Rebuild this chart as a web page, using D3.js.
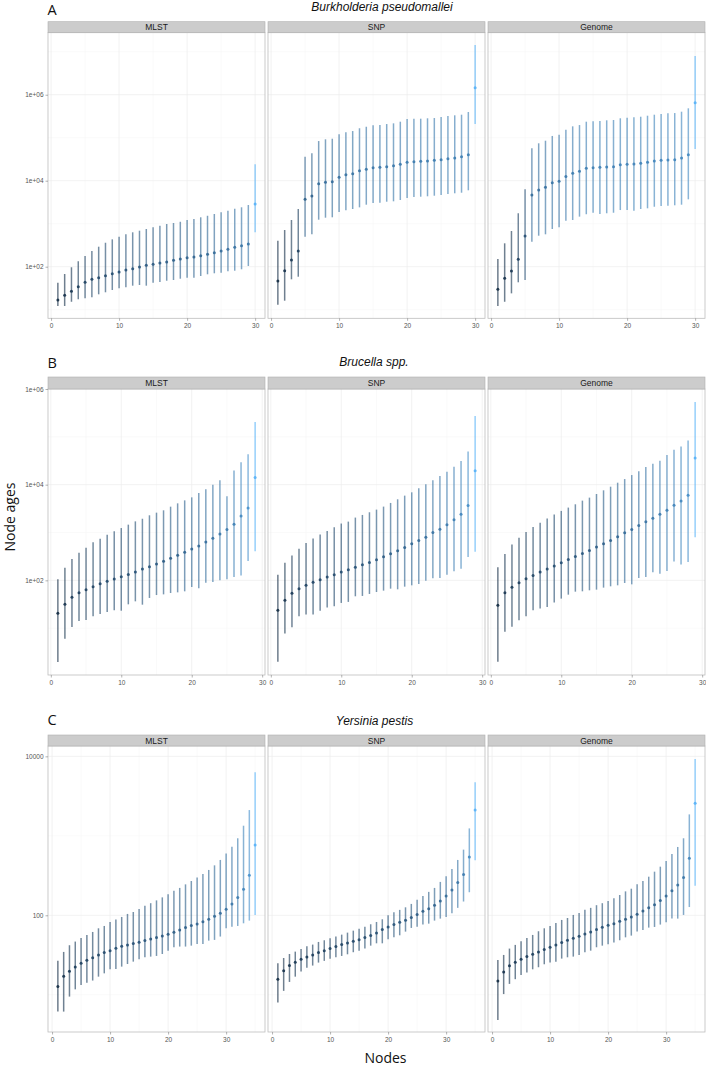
<!DOCTYPE html>
<html><head><meta charset="utf-8">
<script src="https://cdn.jsdelivr.net/npm/d3@7"></script>
<style>body{margin:0;background:#fff}svg{display:block}</style>
</head><body>
<svg id="chart" width="706" height="1067"></svg>
<script>
// ---------------- data ----------------
const methods = ["MLST", "SNP", "Genome"];
const panelLetters = ["A", "B", "C"];
const speciesNames = ["Burkholderia pseudomallei", "Brucella spp.", "Yersinia pestis"];
const yTicksAB = [1e2, 1e4, 1e6];
const yTickLabelsAB = ["1e+02", "1e+04", "1e+06"];
const yTicksC = [100, 10000];
const yTickLabelsC = ["100", "10000"];
const xTicks = [0, 10, 20, 30];
const xTickLabels = ["0", "10", "20", "30"];

// A: Burkholderia pseudomallei (30 nodes)
const A_MLST_med = [16.8,21.6,26.8,34.3,43.4,51,55.5,61.8,68.7,75.3,83.8,89.8,98.4,108,114,122,129,141,151,162,168,180,194,212,232,254,283,308,337,2870];
const A_MLST_lo  = [12.2,12.2,15.3,17.5,18.4,19.4,22.8,25.4,28.7,31.5,33.2,36.2,37.5,36.2,42.5,44,47.2,49,52.6,55.5,55.5,60.8,66.6,70.3,72.5,78.2,80.7,87.1,104,631];
const A_MLST_hi  = [42.5,67.6,97,134,177,232,292,361,433,499,567,631,688,753,824,898,984,1040,1110,1220,1290,1410,1530,1680,1840,2010,2230,2410,2720,24000];

const A_SNP_med = [46.5,80.7,143,232,3690,4400,8510,9180,9480,12000,13800,14500,17100,18400,20100,20500,21200,22300,24000,26800,27700,28200,28700,29800,30800,32500,33700,36100,40300,1456000];
const A_SNP_lo  = [13.1,16.2,50.9,58.5,499,567,1240,1380,1410,1870,2050,2200,2400,2770,3030,3080,3250,3320,3560,3960,4180,4250,4340,4480,4650,4910,5100,5260,5980,208000];
const A_SNP_hi  = [403,713,1220,2200,36100,43400,83700,91800,94800,120000,134000,143000,166000,180000,194000,197000,208000,216000,236000,272000,277000,277000,283000,287000,303000,320000,332000,343000,396000,14300000];

const A_Genome_med = [29.8,53.7,79.4,149,518,4650,6080,7030,8980,9680,12600,14900,16500,19400,20100,20500,20800,21200,23600,24000,24400,25400,26800,28700,29800,30300,30800,33700,40300,652000];
const A_Genome_lo  = [12.2,15.3,24,43.4,49.1,381,526,567,753,824,1170,1220,1460,1660,1800,1680,1750,1800,2080,2080,2010,2200,2280,2480,2580,2620,2680,2770,3690,54600];
const A_Genome_hi  = [151,350,676,1750,6310,56600,74100,85200,110000,117000,153000,184000,197000,236000,240000,244000,254000,258000,283000,292000,298000,308000,325000,343000,356000,369000,375000,403000,483000,7940000];

// B: Brucella spp. (29 nodes)
const B_MLST_med = [20.4,31.5,44.1,55.2,63.8,73.8,85.1,95.3,107,119,133,149,173,193,219,250,288,333,385,452,522,633,755,931,1150,1480,2210,3250,14200];
const B_MLST_lo  = [1.96,6.03,10.6,14.1,14.8,17.7,19.8,21.8,23.6,23.2,31.5,36.4,31,42.8,49.3,50.9,54.3,56.1,58.9,72.6,68.1,89.4,92.3,100,105,117,127,254,404];
const B_MLST_hi  = [105,184,279,379,482,622,743,902,1060,1240,1460,1710,1940,2290,2600,2910,3470,4070,4700,5430,6700,7980,10000,12300,5700,19900,29300,43000,204000];

const B_SNP_med = [23.7,38.3,53.6,67,78.7,90.9,103,117,131,149,167,187,212,237,270,311,359,415,487,581,681,800,1000,1170,1450,1840,2410,3650,19600];
const B_SNP_lo  = [1.99,7.74,10.5,17.8,19.3,19.3,23,27,28.7,33.7,35.4,46.4,47.2,51.9,57.1,60.9,67,64.9,73.8,78.7,83.9,98.4,110,112,131,154,175,306,395];
const B_SNP_hi  = [131,233,332,457,600,750,908,1080,1290,1540,1690,2050,2330,2650,3010,3480,4150,4950,5900,6920,8390,10200,12300,15200,18700,23700,31100,49400,274000];

const B_Genome_med = [30.1,55.3,71.4,89.4,108,127,149,172,199,233,274,316,365,422,495,581,681,813,984,1150,1400,1670,1990,2410,2920,3700,4570,5990,35900];
const B_Genome_lo  = [1.99,8.39,10.7,14.7,17.8,23.7,25.7,27.8,34.3,41.5,50.2,58,59,61.9,63.9,70.4,75,78.7,88,82.5,112,117,147,138,156,249,215,241,800];
const B_Genome_hi  = [187,354,562,774,1030,1310,1590,1960,2370,2830,3320,3890,4640,5360,6390,7620,9080,11000,13100,15900,19000,23300,27400,31600,41500,53600,63000,83900,536000];

// C: Yersinia pestis (35 nodes)
const C_MLST_med = [12.7,17.1,19.8,22.4,24.9,27.2,29.3,31.7,33.9,35.9,38.5,40.8,42.4,44,45.7,48,50.4,52.4,55,57.7,61.1,65.4,70,74.2,77.8,83.2,89.1,97.1,106,119,139,167,212,318,767];
const C_MLST_lo  = [6.14,6.14,9.48,11.7,13.3,14.2,15.1,16.9,18.6,20.9,21.1,22.6,24.4,26.1,28,29.6,30.2,30.8,32.6,35.9,39.6,40.4,40.4,41.5,43.6,43.6,48,49,54,68.6,71.9,73.4,79.3,85.7,101];
const C_MLST_hi  = [26.7,34.6,42,46.7,51.9,56.6,61.7,68.6,73.4,82.4,88.2,95.3,104,110,120,132,142,154,168,184,204,221,245,270,298,331,372,425,497,597,731,931,1340,2110,6300];

const C_SNP_med = [15.7,20.1,23.3,25.6,28,29.9,31.7,33.9,35.9,38.1,40.4,42.8,44.9,47.1,49.4,52.4,55.5,60,66.1,71.3,76.4,81.7,86.5,93.5,102,112,121,134,151,175,208,258,325,542,2110];
const C_SNP_lo  = [7.97,11.2,14.5,16.9,19.6,21.8,23.3,25.4,26.7,28.3,29.6,30.8,32.3,34.3,35.9,38.1,41.5,44.4,44.4,49.9,52.8,56,62.3,69.3,71.9,76.4,78.5,85.7,90.8,95.3,106,124,149,195,492];
const C_SNP_hi  = [24.9,29,32.6,34.9,37.7,40.8,42.8,46.2,48.5,51.4,54,57.1,60.5,64.1,67.9,71.9,77.1,82.4,89.1,100,109,117,126,139,157,175,197,221,263,310,383,497,670,1240,4710];

const C_Genome_med = [14.9,19.4,23.1,25.6,28,30.2,32.3,34.6,37,39.6,42.4,45.3,48.5,51.4,54.5,58.2,61.7,66.1,70.6,74.8,78.5,84.1,89.1,95.3,103,113,124,136,153,175,204,241,298,521,2560];
const C_Genome_lo  = [4.82,10.2,13.7,15.7,17.7,19,20.9,22.2,24.2,25.4,26.1,28.5,29.6,30.2,31.7,34.3,35.9,39.6,41.5,43.2,45.3,48.5,52.8,55.5,62.3,65.4,70,71.3,76.4,81.7,90.8,90.8,101,127,236];
const C_Genome_hi  = [27.4,31.7,38.1,42.4,47.1,51.9,56.6,63,68.6,73.4,80.1,87.4,92.5,101,107,117,124,134,142,151,164,180,200,216,245,270,306,354,409,482,590,724,931,1860,9250];

// ---------------- layout ----------------
const W = 706, H = 1067;
const svg = d3.select("#chart");
const sans = "'Liberation Sans', Arial, Helvetica, sans-serif";
const lblFont = "'Open Sans', 'Liberation Sans', sans-serif";
const facetX = [[48, 265], [268, 485], [488, 705]];

const rows = [
  { letter: panelLetters[0], species: speciesNames[0], titleX: 382, titleY: 10.5, letterY: 15,
    stripTop: 21.7, top: 32.7, bottom: 318.3, yDomain: [6.31, 2.77e7],
    yTicks: yTicksAB, yLabels: yTickLabelsAB, yMinor: [1e1, 1e3, 1e5, 1e7],
    facets: [[A_MLST_med, A_MLST_lo, A_MLST_hi], [A_SNP_med, A_SNP_lo, A_SNP_hi], [A_Genome_med, A_Genome_lo, A_Genome_hi]] },
  { letter: panelLetters[1], species: speciesNames[1], titleX: 374, titleY: 366, letterY: 368,
    stripTop: 377, top: 389, bottom: 675, yDomain: [1.05, 1e6],
    yTicks: yTicksAB, yLabels: yTickLabelsAB, yMinor: [1e1, 1e3, 1e5],
    facets: [[B_MLST_med, B_MLST_lo, B_MLST_hi], [B_SNP_med, B_SNP_lo, B_SNP_hi], [B_Genome_med, B_Genome_lo, B_Genome_hi]] },
  { letter: panelLetters[2], species: speciesNames[2], titleX: 374.5, titleY: 725, letterY: 725,
    stripTop: 735, top: 746, bottom: 1032, yDomain: [3.40, 13490],
    yTicks: yTicksC, yLabels: yTickLabelsC, yMinor: [10, 1000],
    facets: [[C_MLST_med, C_MLST_lo, C_MLST_hi], [C_SNP_med, C_SNP_lo, C_SNP_hi], [C_Genome_med, C_Genome_lo, C_Genome_hi]] }
];

svg.append("rect").attr("width", W).attr("height", H).attr("fill", "#fff");

rows.forEach(row => {
  svg.append("text").attr("x", 47.5).attr("y", row.letterY)
    .attr("font-family", lblFont).attr("font-size", 14.5).attr("fill", "#111")
    .text(row.letter);
  svg.append("text").attr("x", row.titleX).attr("y", row.titleY)
    .attr("text-anchor", "middle").attr("font-family", sans).attr("font-style", "italic")
    .attr("font-size", 12).attr("fill", "#111").text(row.species);

  const y = d3.scaleLog().domain(row.yDomain).range([row.bottom, row.top]);

  row.facets.forEach((f, fi) => {
    const [med, lo, hi] = f;
    const N = med.length;
    const nodes = d3.range(1, N + 1);
    const pad = 0.05 * (N - 1);
    const [x0, x1] = facetX[fi];
    const x = d3.scaleLinear().domain([1 - pad, N + pad]).range([x0, x1]);
    const color = d3.scaleLog().domain(d3.extent(med)).range(["#132B43", "#56B1F7"]).interpolate(d3.interpolateLab);
    const g = svg.append("g");

    const xMinor = [5, 15, 25, 35].filter(v => v < N + pad);
    g.selectAll(null).data(xMinor).join("line")
      .attr("x1", d => x(d)).attr("x2", d => x(d)).attr("y1", row.top).attr("y2", row.bottom)
      .attr("stroke", "#f7f7f7").attr("stroke-width", 0.6);
    g.selectAll(null).data(row.yMinor.filter(v => v > row.yDomain[0] && v < row.yDomain[1])).join("line")
      .attr("x1", x0).attr("x2", x1).attr("y1", d => y(d)).attr("y2", d => y(d))
      .attr("stroke", "#f7f7f7").attr("stroke-width", 0.6);
    g.selectAll(null).data(xTicks).join("line")
      .attr("x1", d => x(d)).attr("x2", d => x(d)).attr("y1", row.top).attr("y2", row.bottom)
      .attr("stroke", "#ececec").attr("stroke-width", 0.7);
    g.selectAll(null).data(row.yTicks.filter(v => v >= row.yDomain[0] && v < row.yDomain[1] * 0.99)).join("line")
      .attr("x1", x0).attr("x2", x1).attr("y1", d => y(d)).attr("y2", d => y(d))
      .attr("stroke", "#ececec").attr("stroke-width", 0.7);

    g.selectAll(null).data(nodes).join("line")
      .attr("x1", d => x(d)).attr("x2", d => x(d))
      .attr("y1", d => y(lo[d - 1])).attr("y2", d => y(hi[d - 1]))
      .attr("stroke", d => color(med[d - 1])).attr("stroke-width", 1.5).attr("stroke-opacity", 0.62);
    g.selectAll(null).data(nodes).join("circle")
      .attr("cx", d => x(d)).attr("cy", d => y(med[d - 1])).attr("r", 1.5)
      .attr("fill", d => color(med[d - 1])).attr("fill-opacity", 0.9);

    g.append("rect").attr("x", x0).attr("y", row.top).attr("width", x1 - x0).attr("height", row.bottom - row.top)
      .attr("fill", "none").attr("stroke", "#bdbdbd").attr("stroke-width", 0.8);

    g.append("rect").attr("x", x0).attr("y", row.stripTop).attr("width", x1 - x0).attr("height", row.top - row.stripTop)
      .attr("fill", "#cccccc").attr("stroke", "#b0b0b0").attr("stroke-width", 0.6);
    g.append("text").attr("x", (x0 + x1) / 2).attr("y", (row.stripTop + row.top) / 2 + 3)
      .attr("text-anchor", "middle").attr("font-family", sans).attr("font-size", 8.5).attr("fill", "#1a1a1a")
      .text(methods[fi]);

    const xa = g.append("g").attr("transform", `translate(0,${row.bottom})`)
      .call(d3.axisBottom(x).tickValues(xTicks).tickFormat((d, i) => xTickLabels[i]).tickSize(2.5).tickPadding(2.5));
    xa.select(".domain").remove();
    xa.selectAll("line").attr("stroke", "#7f7f7f").attr("stroke-width", 0.6);
    xa.selectAll("text").attr("font-family", sans).attr("font-size", 6.5).attr("fill", "#555");

    if (fi === 0) {
      const ya = g.append("g").attr("transform", `translate(${x0},0)`)
        .call(d3.axisLeft(y).tickValues(row.yTicks).tickFormat((d, i) => row.yLabels[i]).tickSize(2.5).tickPadding(2));
      ya.select(".domain").remove();
      ya.selectAll("line").attr("stroke", "#7f7f7f").attr("stroke-width", 0.6);
      ya.selectAll("text").attr("font-family", sans).attr("font-size", 6.5).attr("fill", "#555");
    }
  });
});

svg.append("text").attr("transform", "translate(15,517) rotate(-90)")
  .attr("text-anchor", "middle").attr("font-family", lblFont).attr("font-size", 14).attr("fill", "#111")
  .text("Node ages");
svg.append("text").attr("x", 385.5).attr("y", 1063)
  .attr("text-anchor", "middle").attr("font-family", lblFont).attr("font-size", 14).attr("fill", "#111")
  .text("Nodes");
</script>
</body></html>
